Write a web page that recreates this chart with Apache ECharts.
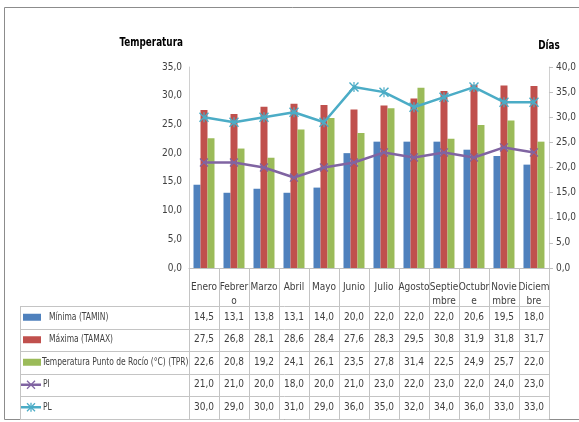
<!DOCTYPE html>
<html>
<head>
<meta charset="utf-8">
<title>Temperatura y días</title>
<script src="https://cdn.jsdelivr.net/npm/echarts@6/dist/echarts.min.js"></script>
<style>
  html, body { margin: 0; padding: 0; background: #fff; }
  #chart { width: 579px; height: 422px; }
</style>
</head>
<body>
<div id="chart"></div>
<script>
// meses y etiquetas tal como salen cortadas en la tabla
var months = ['Enero', 'Febrero', 'Marzo', 'Abril', 'Mayo', 'Junio', 'Julio', 'Agosto', 'Septiembre', 'Octubre', 'Noviembre', 'Diciembre'];
var monthLabels = ['Enero', 'Febrer\no', 'Marzo', 'Abril', 'Mayo', 'Junio', 'Julio', 'Agosto', 'Septie\nmbre', 'Octubr\ne', 'Novie\nmbre', 'Diciem\nbre'];

// series
var tamin = [14.5, 13.1, 13.8, 13.1, 14.0, 20.0, 22.0, 22.0, 22.0, 20.6, 19.5, 18.0];
var tamax = [27.5, 26.8, 28.1, 28.6, 28.4, 27.6, 28.3, 29.5, 30.8, 31.9, 31.8, 31.7];
var tpr = [22.6, 20.8, 19.2, 24.1, 26.1, 23.5, 27.8, 31.4, 22.5, 24.9, 25.7, 22.0];
var pi = [21.0, 21.0, 20.0, 18.0, 20.0, 21.0, 23.0, 22.0, 23.0, 22.0, 24.0, 23.0];
var pl = [30.0, 29.0, 30.0, 31.0, 29.0, 36.0, 35.0, 32.0, 34.0, 36.0, 33.0, 33.0];

var seriesNames = ['Mínima (TAMIN)', 'Máxima (TAMAX)', 'Temperatura Punto de Rocío (°C) (TPR)', 'PI', 'PL'];

// ejes
var tempAxis = { min: 0, max: 35, interval: 5 };
var diasAxis = { min: 0, max: 40, interval: 5 };

var colors = ['#4F81BD', '#C0504D', '#9BBB59', '#8064A2', '#4BACC6'];
var font = "'DejaVu Sans Condensed', 'Liberation Sans Narrow', sans-serif";
var txtColor = '#404040';
var borderColor = '#c4c4c4';

// marcadores tipo excel
var crossPath = 'path://M0,1 L1,0 L5,4 L9,0 L10,1 L6,5 L10,9 L9,10 L5,6 L1,10 L0,9 L4,5 Z';
var starPath = 'path://M0,1 L1,0 L4.4,3.4 L4.4,0 L5.6,0 L5.6,3.4 L9,0 L10,1 L6,5 L10,9 L9,10 L5.6,6.6 L5.6,10 L4.4,10 L4.4,6.6 L1,10 L0,9 L4,5 Z';

function fmt(v) {
  return v.toFixed(1).replace('.', ',');
}

var grid = { left: 189, right: 27, top: 67, bottom: 154 };

var chart = echarts.init(document.getElementById('chart'));

chart.setOption({
  animation: false,
  color: colors,
  textStyle: { fontFamily: font },
  grid: grid,
  xAxis: {
    type: 'category',
    data: months,
    axisLine: { lineStyle: { color: '#bfbfbf' } },
    axisTick: { show: true, length: 38, lineStyle: { color: borderColor } },
    axisLabel: {
      interval: 0,
      color: txtColor,
      fontSize: 10,
      lineHeight: 14,
      margin: 12,
      formatter: function (v, i) { return monthLabels[i]; }
    }
  },
  yAxis: [{
    type: 'value',
    min: tempAxis.min,
    max: tempAxis.max,
    interval: tempAxis.interval,
    splitLine: { show: false },
    axisLine: { show: true, lineStyle: { color: '#d0d0d0' } },
    axisTick: { show: false },
    axisLabel: { color: txtColor, fontSize: 10, margin: 7, formatter: fmt }
  }, {
    type: 'value',
    min: diasAxis.min,
    max: diasAxis.max,
    interval: diasAxis.interval,
    splitLine: { show: false },
    axisLine: { show: true, lineStyle: { color: '#d0d0d0' } },
    axisTick: { show: true, length: 4, lineStyle: { color: '#bfbfbf' } },
    axisLabel: { color: txtColor, fontSize: 10, margin: 7, formatter: fmt }
  }],
  series: [{
    name: seriesNames[0], type: 'bar', data: tamin, barWidth: 7, barGap: '0%'
  }, {
    name: seriesNames[1], type: 'bar', data: tamax, barWidth: 7, barGap: '0%'
  }, {
    name: seriesNames[2], type: 'bar', data: tpr, barWidth: 7, barGap: '0%'
  }, {
    name: seriesNames[3], type: 'line', yAxisIndex: 1, data: pi,
    symbol: crossPath, symbolSize: 9,
    lineStyle: { width: 2.5 }, itemStyle: { color: colors[3] }
  }, {
    name: seriesNames[4], type: 'line', yAxisIndex: 1, data: pl,
    symbol: starPath, symbolSize: 10,
    lineStyle: { width: 2.5 }, itemStyle: { color: colors[4] }
  }]
});

function seg(x1, y1, x2, y2, color, w) {
  return { type: 'line', shape: { x1: x1, y1: y1, x2: x2, y2: y2 }, style: { stroke: color, lineWidth: w }, silent: true };
}

function label(text, x, y, size, align, scaleX, bold, color) {
  return {
    type: 'text', x: x, y: y, scaleX: scaleX, silent: true,
    style: {
      text: text, fill: color || txtColor, align: align, verticalAlign: 'middle',
      font: (bold ? 'bold ' : '') + size + 'px ' + font
    }
  };
}

// tabla de datos debajo del gráfico
function buildTable() {
  var rows = [tamin, tamax, tpr, pi, pl];
  var rowTop = 306, rowH = 22.5, tableLeft = 20;
  var c0 = chart.convertToPixel({ xAxisIndex: 0 }, 0);
  var c1 = chart.convertToPixel({ xAxisIndex: 0 }, 1);
  var colW = c1 - c0;
  var firstEdge = c0 - colW / 2;
  var lastEdge = firstEdge + colW * months.length;
  var els = [];

  // marco exterior
  els.push({ type: 'rect', shape: { x: 4.5, y: 7.5, width: 600, height: 412 }, style: { fill: 'none', stroke: '#8c8c8c', lineWidth: 1 }, silent: true });

  // titulos de los ejes
  els.push(label('Temperatura', 183, 43, 12, 'right', 0.82, true, '#000'));
  els.push(label('Días', 549, 46, 12, 'center', 0.82, true, '#000'));

  // lineas horizontales
  for (var r = 0; r <= rows.length; r++) {
    var y = Math.round(rowTop + r * rowH) + 0.5;
    els.push(seg(tableLeft, y, lastEdge, y, borderColor, 1));
  }
  // lineas verticales
  var bottom = Math.round(rowTop + rows.length * rowH) + 0.5;
  els.push(seg(tableLeft + 0.5, rowTop, tableLeft + 0.5, bottom, borderColor, 1));
  for (var c = 0; c <= months.length; c++) {
    var x = Math.round(firstEdge + c * colW) + 0.5;
    els.push(seg(x, rowTop, x, bottom, borderColor, 1));
  }

  // leyenda en la primera columna
  var textX = [49, 49, 42, 43, 43];
  for (var k = 0; k < rows.length; k++) {
    var cy = rowTop + k * rowH + rowH / 2;
    if (k < 3) {
      els.push({ type: 'rect', shape: { x: 23, y: cy - 3.5, width: 18, height: 7 }, style: { fill: colors[k] }, silent: true });
    } else {
      var mx = 31, s = 4;
      els.push(seg(21, cy, 41, cy, colors[k], 2.5));
      els.push(seg(mx - s, cy - s, mx + s, cy + s, colors[k], 1.3));
      els.push(seg(mx - s, cy + s, mx + s, cy - s, colors[k], 1.3));
      if (k === 4) els.push(seg(mx, cy - s - 0.5, mx, cy + s + 0.5, colors[k], 1.3));
    }
    els.push(label(seriesNames[k], textX[k], cy, 10, 'left', 0.84));

    for (var i = 0; i < months.length; i++) {
      var cx = chart.convertToPixel({ xAxisIndex: 0 }, i);
      els.push(label(fmt(rows[k][i]), cx, cy, 10, 'center', 1));
    }
  }

  chart.setOption({ graphic: { elements: els } });
}

buildTable();
</script>
</body>
</html>
